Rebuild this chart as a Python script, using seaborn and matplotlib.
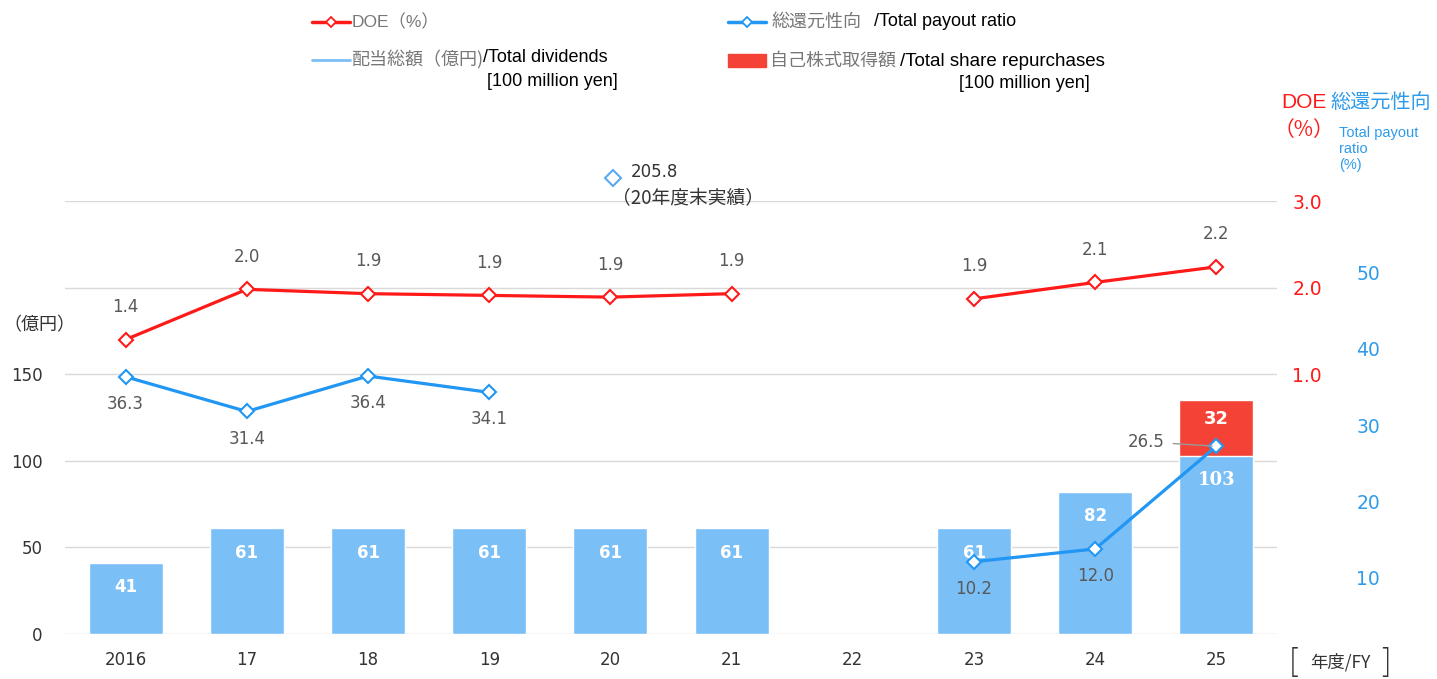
import matplotlib.pyplot as plt
import matplotlib.lines as mlines
import matplotlib.patches as mpatches
import matplotlib.transforms as mtransforms
import numpy as np
import pandas as pd
import seaborn as sns

sns.set_theme(style="white")
plt.rcParams['font.family'] = ['DejaVu Sans', 'Noto Sans CJK JP']

years = ["2016", "17", "18", "19", "20", "21", "22", "23", "24", "25"]
dividends = [41, 61, 61, 61, 61, 61, np.nan, 61, 82, 103]
repurchases = [np.nan, np.nan, np.nan, np.nan, np.nan, np.nan, np.nan, np.nan, np.nan, 32]
doe = [1.40, 1.98, 1.93, 1.91, 1.89, 1.93, np.nan, 1.87, 2.06, 2.24]
doe_labels = ["1.4", "2.0", "1.9", "1.9", "1.9", "1.9", "", "1.9", "2.1", "2.2"]
payout = [36.3, 31.4, 36.4, 34.1, np.nan, np.nan, np.nan, 10.2, 12.0, 26.5]
payout_fy20 = 205.8

BLUE_BAR = "#7bbff7"
RED_BAR = "#f44336"
RED = "#ff1a1a"
BLUE = "#2196f3"
GRAY = "#595959"
JP = ["Noto Sans CJK JP"]
EN = ["Liberation Sans", "Noto Sans CJK JP"]

W, H = 1437, 679


def fx(x):
    return x / W


def fy(y):
    return 1 - y / H


df = pd.DataFrame({"year": years, "dividends": dividends,
                   "total": np.array(dividends) + np.array(repurchases)})
pos = np.arange(len(years))

fig = plt.figure(figsize=(W / 100, H / 100), dpi=100)
ax = fig.add_axes([fx(65), fy(634), fx(1277) - fx(65), (634 - 201) / H])

# bars: red total behind, blue dividends on top
sns.barplot(data=df, x="year", y="total", order=years, color=RED_BAR,
            saturation=1, width=0.61, errorbar=None, ax=ax)
sns.barplot(data=df, x="year", y="dividends", order=years, color=BLUE_BAR,
            saturation=1, width=0.61, errorbar=None, ax=ax)
ax.set_xlabel("")
ax.set_ylabel("")
ax.set_xlim(-0.5, len(years) - 0.5)
ax.set_ylim(0, 250)
ax.set_yticks([0, 50, 100, 150, 200, 250])
ax.set_yticklabels(["0", "50", "100", "150", "", ""])
ax.grid(axis="y", color="#d9d9d9", linewidth=1)
ax.set_axisbelow(True)
ax.tick_params(axis="y", length=0, pad=16, labelsize=12, labelcolor="#333333")
ax.tick_params(axis="x", length=0, pad=12, labelsize=12, labelcolor="#333333")
for s in ax.spines.values():
    s.set_visible(False)

for i, v in enumerate(dividends):
    if not np.isnan(v):
        f = "DejaVu Serif" if v >= 100 else None
        ax.text(i, v - 14, f"{v:.0f}", ha="center", va="center", color="white",
                fontsize=13 if v >= 100 else 12, fontweight="bold", family=f)
for i, v in enumerate(repurchases):
    if not np.isnan(v):
        ax.text(i, dividends[i] + v - 11, f"{v:.0f}", ha="center", va="center",
                color="white", fontsize=13, fontweight="bold")

# DOE axis
ax_doe = ax.twinx()
ax_doe.set_ylim(-2, 3)
ax_doe.set_yticks([1, 2, 3])
ax_doe.set_yticklabels(["1.0", "2.0", "3.0"])
ax_doe.tick_params(axis="y", length=0, pad=11, labelsize=13.5, labelcolor=RED)
ax_doe.plot(pos, doe, color=RED, linewidth=2.3, marker="D", markersize=7,
            markerfacecolor="white", markeredgecolor=RED, markeredgewidth=1.5)
for i, (v, lab) in enumerate(zip(doe, doe_labels)):
    if lab:
        ax_doe.annotate(lab, (i, v), xytext=(0, 17), textcoords="offset points",
                        ha="center", va="bottom", color=GRAY, fontsize=12)

# payout ratio axis (data)
ax_pay = ax.twinx()
ax_pay.set_ylim(0, 61.1)
ax_pay.set_yticks([])
ax_pay.plot(pos, payout, color=BLUE, linewidth=2.3, marker="D", markersize=7,
            markerfacecolor="white", markeredgecolor=BLUE, markeredgewidth=1.5)
for i, v in enumerate(payout):
    if np.isnan(v) or i == len(payout) - 1:
        continue
    ax_pay.annotate(f"{v:.1f}", (i, v), xytext=(0, -13), textcoords="offset points",
                    ha="center", va="top", color=GRAY, fontsize=12)
ax_pay.annotate(f"{payout[-1]:.1f}", (9, payout[-1]), xytext=(8.57, 27.1),
                textcoords="data", ha="right", va="center", color=GRAY, fontsize=12,
                arrowprops=dict(arrowstyle="-", color="#999999", lw=1,
                                shrinkA=4, shrinkB=3))

trans = mtransforms.blended_transform_factory(ax_pay.transData, ax_pay.transAxes)
ax_pay.plot([4.02], [1.053], marker="D", markersize=8, markerfacecolor="none",
            markeredgecolor="#5aaaf0", markeredgewidth=1.5, transform=trans,
            clip_on=False)
ax_pay.text(4.165, 1.067, f"{payout_fy20}", transform=trans, ha="left",
            va="center", color="#333333", fontsize=12)
ax_pay.text(4.64, 1.005, "（20年度末実績）", transform=trans, ha="center",
            va="center", color="#333333", fontsize=13.5, family=JP)

# payout ratio tick labels
ax_pt = ax.twinx()
ax_pt.set_ylim(2.62, 59.37)
ax_pt.set_yticks([10, 20, 30, 40, 50])
ax_pt.tick_params(axis="y", length=0, pad=57, labelsize=13.5, labelcolor="#2e9bea")

for a in (ax_doe, ax_pay, ax_pt):
    a.grid(False)
    for s in a.spines.values():
        s.set_visible(False)

# axis titles
fig.text(fx(3), fy(325), "（億円）", ha="left", va="center", color="#333333",
         fontsize=13, family=JP)
fig.text(fx(1304), fy(103), "DOE", ha="center", va="center", color=RED, fontsize=15,
         family=EN)
fig.text(fx(1304), fy(130), "（%）", ha="center", va="center", color=RED, fontsize=15,
         family=JP)
fig.text(fx(1330), fy(103), "総還元性向", ha="left", va="center", color="#2e9bea",
         fontsize=14.5, family=JP)
fig.text(fx(1339), fy(149), "Total payout\nratio\n(%)", ha="left", va="center",
         color="#2e9bea", fontsize=10.5, linespacing=1.2, family=EN)
fig.text(fx(1340), fy(662), "年度/FY", ha="center", va="center", color="#333333",
         fontsize=12.5, family=JP)
fig.text(fx(1294), fy(662), "[", ha="center", va="center", color="#333333",
         fontsize=22, fontweight="light", family=JP)
fig.text(fx(1386), fy(662), "]", ha="center", va="center", color="#333333",
         fontsize=22, fontweight="light", family=JP)

# legend drawn by hand
fig.add_artist(mlines.Line2D([fx(312), fx(350)], [fy(22), fy(22)], color=RED,
                             linewidth=2.5))
fig.add_artist(mlines.Line2D([fx(331)], [fy(22)], color=RED, marker="D", markersize=5,
                             markerfacecolor="white", markeredgewidth=1.3))
fig.text(fx(352), fy(22), "DOE（%）", ha="left", va="center", color="#777777",
         fontsize=12.5, family=EN)

fig.add_artist(mlines.Line2D([fx(728), fx(766)], [fy(22), fy(22)], color=BLUE,
                             linewidth=2.5))
fig.add_artist(mlines.Line2D([fx(747)], [fy(22)], color=BLUE, marker="D", markersize=5,
                             markerfacecolor="white", markeredgewidth=1.3))
fig.text(fx(772), fy(22), "総還元性向", ha="left", va="center", color="#777777",
         fontsize=13, family=JP)
fig.text(fx(874), fy(22), "/Total payout ratio", ha="left", va="center", color="black",
         fontsize=13, family=EN)

fig.add_artist(mlines.Line2D([fx(312), fx(350)], [fy(60), fy(60)], color=BLUE_BAR,
                             linewidth=2))
fig.text(fx(352), fy(60), "配当総額（億円)", ha="left", va="center", color="#777777",
         fontsize=13, family=JP)
fig.text(fx(483), fy(58), "/Total dividends", ha="left", va="center", color="black",
         fontsize=13, family=EN)
fig.text(fx(618), fy(81), "[100 million yen]", ha="right", va="center", color="black",
         fontsize=13, family=EN)

fig.add_artist(mpatches.Rectangle((fx(728), fy(67)), fx(766) - fx(728), (67 - 54) / H,
                                  color=RED_BAR, transform=fig.transFigure))
fig.text(fx(770), fy(61), "自己株式取得額", ha="left", va="center", color="#777777",
         fontsize=13, family=JP)
fig.text(fx(900), fy(61), "/Total share repurchases", ha="left", va="center",
         color="black", fontsize=13.5, family=EN)
fig.text(fx(1090), fy(84), "[100 million yen]", ha="right", va="center", color="black",
         fontsize=13, family=EN)

fig.savefig("out.png", dpi=100)
